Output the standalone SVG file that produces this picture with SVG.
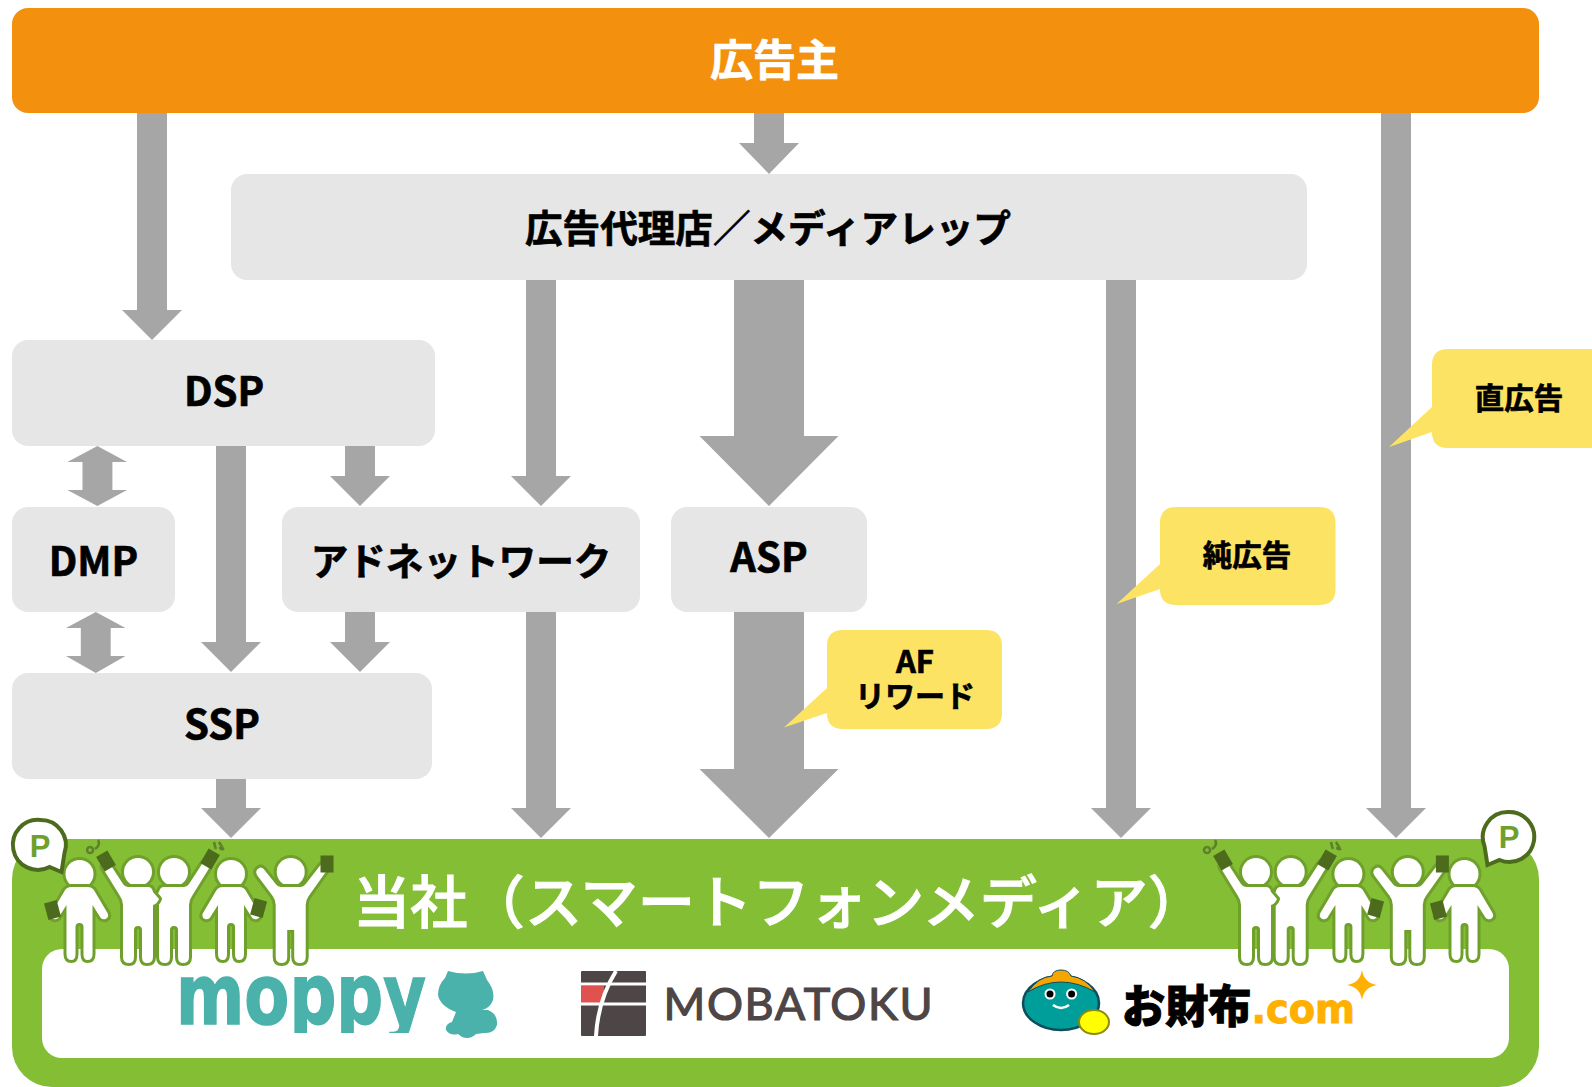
<svg xmlns="http://www.w3.org/2000/svg" width="1592" height="1087" viewBox="0 0 1592 1087">
<style>
text{font-family:"Noto Sans CJK JP","Noto Sans",sans-serif;text-anchor:middle}
.b{font-weight:700;fill:#000;stroke:#000;stroke-width:.7}
.box{fill:#e6e6e6}
.call{fill:#fde363}
.arr{fill:#a6a6a6}
.fig{fill:#fff;stroke:#70a02c;stroke-width:6;paint-order:stroke;stroke-linejoin:round}
.ph{fill:#4d6b1c}
.note{fill:none;stroke:#5f7f2c;stroke-width:2.5}
.badge{fill:#fff;stroke:#4d6b1c;stroke-width:4}
.p{font-family:"Liberation Sans",sans-serif;font-weight:700;font-size:31px;fill:#70a02c}
</style>
<defs>
<g id="down"><circle r="14" class="fig"/><path class="fig" d="M-8,13H8Q13,13 15,17L28,39Q30,43 26,45Q22,46 20,42L13,31V80Q13,86 8,86Q4,86 4,80V53Q4,49 0,49Q-4,49 -4,53V80Q-4,86 -8,86Q-13,86 -13,80V31L-20,42Q-22,46 -26,45Q-30,43 -28,39L-15,17Q-13,13 -8,13Z"/></g>
<g id="up"><circle r="14" class="fig"/><path class="fig" d="M-10,15H10Q13,15 15,12L29,-6Q32,-10 35,-7Q38,-4 35,0L18,24Q15,28 15,33V85Q15,91 9,91Q3.500,91 3.500,85V58H-3.500V85Q-3.500,91 -9,91Q-15,91 -15,85V33Q-15,28 -18,24L-33,4Q-36,0 -33,-3Q-30,-6 -27,-3L-15,12Q-13,15 -10,15Z"/></g>
<g id="up1"><circle r="14" class="fig"/><path class="fig" d="M-10,15H10Q13,15 15,12L28,-8Q31,-12 34,-9Q37,-6 34,-2L18,24Q15,28 15,33V85Q15,91 9,91Q4,91 4,85V58Q4,54 0,54Q-4,54 -4,58V85Q-4,91 -9,91Q-15,91 -15,85V33Q-19,32 -21,27L-15,20Q-14,15 -10,15Z"/></g>
<rect id="phone" class="ph" x="-6.500" y="-8.500" width="13" height="17"/>
</defs>

<g id="connectors">
<path class="arr" d="M137,113H167V310H182L152,340L122,310H137Z"/>
<path class="arr" d="M754,113H784V143H799L769,174L739,143H754Z"/>
<path class="arr" d="M1381,113H1411V808H1426L1396,838L1366,808H1381Z"/>
<path class="arr" d="M526,280H556V476H571L541,506L511,476H526Z"/>
<path class="arr" d="M734,280H804V436H838.500L769,506L699.500,436H734Z"/>
<path class="arr" d="M1106,280H1136V808H1151L1121,838L1091,808H1106Z"/>
<path class="arr" d="M216,446H246V642H261L231,672L201,642H216Z"/>
<path class="arr" d="M345,446H375V476H390L360,506L330,476H345Z"/>
<path class="arr" d="M345,612H375V642H390L360,672L330,642H345Z"/>
<path class="arr" d="M97.400,446L127,462H112.400V490H127L97.400,506L67.400,490H82.500V462H67.400Z"/>
<path class="arr" d="M95.800,612L125.500,628H110.700V656H125.500L95.800,673L66,656H80.800V628H66Z"/>
<path class="arr" d="M526,612H556V808H571L541,838L511,808H526Z"/>
<path class="arr" d="M734,612H804V769H838.500L769,838L699.500,769H734Z"/>
<path class="arr" d="M216,779H246V808H261L231,838L201,808H216Z"/>
</g>

<g id="advertiser"><rect x="12" y="8" width="1527" height="105" rx="16" fill="#f3900e"/><text x="774.500" y="76" font-size="43" font-weight="700" fill="#fff" stroke="#fff" stroke-width=".7">広告主</text></g>
<g id="agency"><rect class="box" x="231" y="174" width="1076" height="106" rx="16"/><text class="b" x="768" y="242" font-size="37.600">広告代理店／メディアレップ</text></g>
<g id="dsp"><rect class="box" x="12" y="340" width="423" height="106" rx="16"/><text class="b" x="224" y="406" font-size="40">DSP</text></g>
<g id="dmp"><rect class="box" x="12" y="507" width="163" height="105" rx="16"/><text class="b" x="93.500" y="576" font-size="40">DMP</text></g>
<g id="adnetwork"><rect class="box" x="282" y="507" width="358" height="105" rx="16"/><text class="b" x="461" y="575" font-size="37.600">アドネットワーク</text></g>
<g id="asp"><rect class="box" x="671" y="507" width="196" height="105" rx="16"/><text class="b" x="769" y="572" font-size="40">ASP</text></g>
<g id="ssp"><rect class="box" x="12" y="673" width="420" height="106" rx="16"/><text class="b" x="222" y="739" font-size="40">SSP</text></g>

<g id="direct-ad"><path class="call" d="M1448,349H1600V448H1448Q1432,448 1432,432L1389,447L1432,407V365Q1432,349 1448,349Z"/><text class="b" x="1519" y="409" font-size="29.500">直広告</text></g>
<g id="pure-ad"><path class="call" d="M1176,507H1319.500Q1335.500,507 1335.500,523V589Q1335.500,605 1319.500,605H1176Q1160,605 1160,589L1116.600,604L1160,564V523Q1160,507 1176,507Z"/><text class="b" x="1247" y="566" font-size="29.500">純広告</text></g>
<g id="af-reward"><path class="call" d="M843,630H986Q1002,630 1002,646V713Q1002,729 986,729H843Q827,729 827,713L784,727.500L827,688V646Q827,630 843,630Z"/><text class="b"><tspan x="915" y="673" font-size="31">AF</tspan><tspan x="915" y="707" font-size="30">リワード</tspan></text></g>

<g id="company">
<rect x="12" y="839" width="1527" height="248" rx="40" fill="#83be35"/>
<rect x="42" y="949" width="1467" height="109" rx="20" fill="#fff"/>
<text x="779" y="923" font-size="57.300" font-weight="500" fill="#fff" stroke="#fff" stroke-width="1">当社（スマートフォンメディア）</text>
</g>

<g id="people-left">
<use href="#down" transform="translate(79.500,874)"/>
<use href="#up1" transform="translate(174,872)"/>
<use href="#up1" transform="translate(138,872) scale(-1,1)"/>
<use href="#down" transform="translate(231,874)"/>
<use href="#up" transform="translate(290.700,872)"/>
<use href="#phone" transform="translate(52.500,910) rotate(-15)"/>
<use href="#phone" transform="translate(106,861) rotate(-30)"/>
<use href="#phone" transform="translate(210,859) rotate(30)"/>
<use href="#phone" transform="translate(258.600,908) rotate(15)"/>
<use href="#phone" transform="translate(327,864)"/>
<path class="note" d="M90,847a3,3 0 1 0 .1,0M98,840q3,5 -3,9M214,842q1,5 2,7M219,842q3,5 4,7q-3,1 -3,-2"/>
</g>
<g id="people-right">
<use href="#up1" transform="translate(1290.700,872)"/>
<use href="#up1" transform="translate(1256,872) scale(-1,1)"/>
<use href="#down" transform="translate(1348.400,874)"/>
<use href="#up" transform="translate(1407.800,872)"/>
<use href="#down" transform="translate(1464.500,874)"/>
<use href="#phone" transform="translate(1223,860) rotate(-30)"/>
<use href="#phone" transform="translate(1327,860) rotate(30)"/>
<use href="#phone" transform="translate(1375.600,908) rotate(15)"/>
<use href="#phone" transform="translate(1442.400,864)"/>
<use href="#phone" transform="translate(1438.400,910) rotate(-15)"/>
<path class="note" d="M1207,847a3,3 0 1 0 .1,0M1215,840q3,5 -3,9M1331,842q1,5 2,7M1336,842q3,5 4,7q-3,1 -3,-2"/>
</g>
<g id="badge-left"><path class="badge" d="M40.500,820A25,25 0 0 1 64.500,853L61.500,872L49.500,867A25,25 0 1 1 40.500,820Z"/><text class="p" x="40" y="857">P</text></g>
<g id="badge-right"><path class="badge" d="M1508,812A25,25 0 0 0 1484.500,846L1487.500,865L1499.500,860A25,25 0 1 0 1508,812Z"/><text class="p" x="1509" y="848">P</text></g>

<g id="logo-moppy">
<clipPath id="moppyclip"><rect x="170" y="960" width="262" height="73"/></clipPath>
<g clip-path="url(#moppyclip)"><text x="301" y="1024" font-size="84" font-weight="700" fill="#4ab1ab" stroke="#4ab1ab" stroke-width="1.500" textLength="250" lengthAdjust="spacingAndGlyphs" style="font-family:'DejaVu Sans',sans-serif">moppy</text></g>
<path fill="#4ab1ab" d="M448,971Q466,976 483,971L487,980Q495,990 493,1000Q490,1008 482,1010L488,1010Q498,1014 497,1025Q494,1034 484,1033L476,1034Q470,1040 462,1037L458,1034Q450,1036 446,1030Q445,1024 452,1022L456,1012Q440,1006 438,995Q438,985 445,978Z"/>
</g>
<g id="logo-mobatoku">
<rect x="581" y="971" width="65" height="65" rx="1" fill="#4d4546"/>
<rect x="581" y="986" width="23" height="17" fill="#e0524f"/>
<path d="M581,984H646M581,1004H646" stroke="#fff" stroke-width="3" fill="none"/>
<path d="M616,971Q598,1000 596,1036" stroke="#fff" stroke-width="4" fill="none"/>
<text x="798" y="1020" font-size="45" font-weight="400" fill="#4d4546" stroke="#4d4546" stroke-width="1.200" textLength="269" style="font-family:Lato,sans-serif">MOBATOKU</text>
</g>
<g id="logo-osaifu">
<ellipse cx="1061" cy="1003" rx="38" ry="27" fill="#009e9a" stroke="#0e4d5c" stroke-width="2.500"/>
<path d="M1028,992Q1038,977 1052,976Q1053,970 1061,970Q1069,970 1071,976Q1086,978 1095,992Q1078,982 1061,982Q1044,982 1028,992Z" fill="#f5a400" stroke="#0e4d5c" stroke-width="1"/>
<circle cx="1050" cy="994" r="5.500" fill="#fff"/><circle cx="1071.600" cy="994" r="5.500" fill="#fff"/><circle cx="1050" cy="994" r="3.500" fill="#000"/><circle cx="1071.600" cy="994" r="3.500" fill="#000"/>
<path d="M1053,1005Q1061,1011 1069,1005" fill="none" stroke="#fff" stroke-width="2.500"/>
<ellipse cx="1094" cy="1022" rx="15" ry="12" fill="#ffff00" stroke="#8a8a10" stroke-width="2"/>
<text x="1122" y="1023" font-size="45" font-weight="900" fill="#000" stroke="#000" stroke-width="1" textLength="233" lengthAdjust="spacingAndGlyphs" style="text-anchor:start">お財布<tspan fill="#ffb000" stroke="#ffb000" font-weight="700" font-size="40" style="font-family:'DejaVu Sans',sans-serif">.com</tspan></text>
<path d="M1362,970Q1364,983 1377,985Q1364,987 1362,1000Q1360,987 1347,985Q1360,983 1362,970Z" fill="#ffb000"/>
</g>
</svg>
